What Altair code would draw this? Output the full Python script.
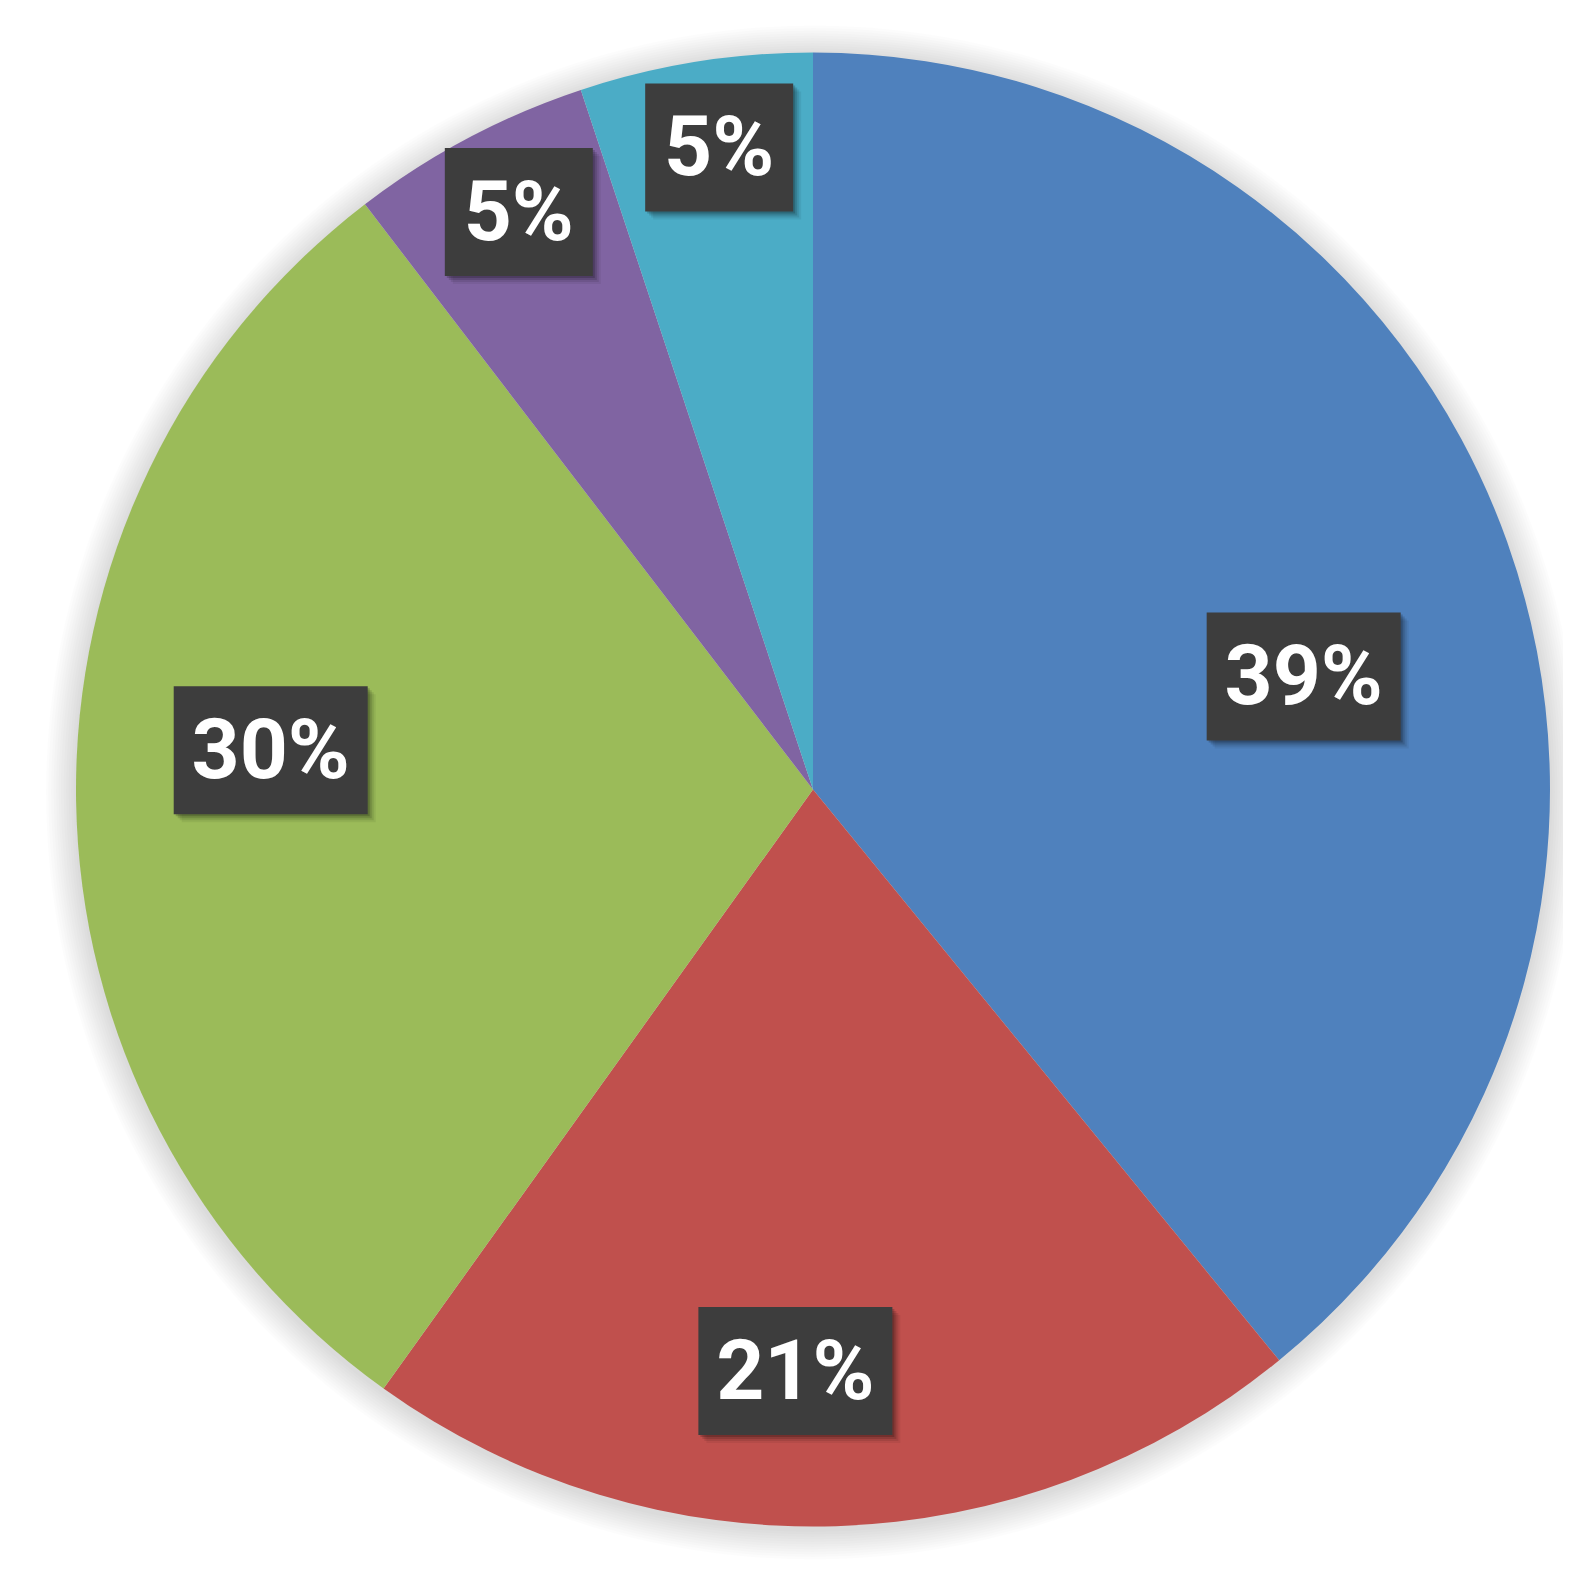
import altair as alt
import pandas as pd

# ---- data ----
categories = ["Category 1", "Category 2", "Category 3", "Category 4", "Category 5"]
values = [39.1, 20.8, 29.7, 5.3, 5.1]
labels = ["39%", "21%", "30%", "5%", "5%"]
colors = ["#4F81BD", "#C0504D", "#9BBB59", "#8064A2", "#4BACC6"]

df = pd.DataFrame({
    "cat": categories,
    "value": values,
    "label": labels,
    "idx": list(range(len(categories))),
})

# ---- layout ----
W, H = 1555, 1556            # view size
CX, CY, R = 805, 781.5, 737  # pie centre / radius in view pixels
BOX_H = 128
CHAR_W, BOX_PAD = 46, 56

xdom = [-CX / R, (W - CX) / R]
ydom = [-(H - CY) / R, CY / R]
xs = alt.Scale(domain=xdom, range=[0, W], nice=False, zero=False)
ys = alt.Scale(domain=ydom, range=[H, 0], nice=False, zero=False)

base = alt.Chart(df)

# soft shadow around the pie
shadow_layers = []
one = pd.DataFrame({"a": [0]})
for k in range(12, 0, -1):
    shadow_layers.append(
        alt.Chart(one).mark_arc(
            theta=0, theta2=6.2832, outerRadius=R + 2.5 * k,
            fill="#000000", fillOpacity=0.011, strokeWidth=0,
        ).encode(x=alt.value(CX), y=alt.value(CY + 3))
    )

pie = base.mark_arc(outerRadius=R, strokeWidth=0).encode(
    theta=alt.Theta("value:Q", stack=True),
    color=alt.Color("cat:N", scale=alt.Scale(domain=categories, range=colors), legend=None),
    order=alt.Order("idx:Q"),
    x=alt.value(CX),
    y=alt.value(CY),
)

lab = (
    base.transform_joinaggregate(total="sum(value)")
    .transform_window(cum="sum(value)", sort=[alt.SortField("idx")], frame=[None, 0])
    .transform_calculate(
        pct="datum.value / datum.total * 100",
        mid="(datum.cum - datum.value / 2) / datum.total * 2 * PI",
    )
    .transform_calculate(
        rf="0.91 - 0.0058 * datum.pct",
        ang="datum.mid + 0.17 * datum.pct * PI / 180",
    )
    .transform_calculate(
        lx="datum.rf * sin(datum.ang)",
        ly="datum.rf * cos(datum.ang)",
        hw=f"({CHAR_W} * length(datum.label) + {BOX_PAD}) / 2 / {R}",
        hh=f"{BOX_H / 2} / {R}",
    )
    .transform_calculate(
        x1="datum.lx - datum.hw", x2="datum.lx + datum.hw",
        y1="datum.ly - datum.hh", y2="datum.ly + datum.hh",
    )
)

box_shadows = []
for off, op in [(8, 0.06), (6, 0.09), (4, 0.13), (2, 0.18)]:
    box_shadows.append(
        lab.transform_calculate(
            sx1=f"datum.x1 + {off} / {R}", sx2=f"datum.x2 + {off} / {R}",
            sy1=f"datum.y1 - {off} / {R}", sy2=f"datum.y2 - {off} / {R}",
        ).mark_rect(color="#000000", opacity=op).encode(
            x=alt.X("sx1:Q", scale=xs, axis=None), x2="sx2:Q",
            y=alt.Y("sy1:Q", scale=ys, axis=None), y2="sy2:Q",
        )
    )
box = lab.mark_rect(color="#3d3d3d").encode(
    x=alt.X("x1:Q", scale=xs, axis=None), x2="x2:Q",
    y=alt.Y("y1:Q", scale=ys, axis=None), y2="y2:Q",
)
text = lab.mark_text(
    font="Roboto", fontWeight="bold", fontSize=84, color="#ffffff",
    align="center", baseline="middle", dy=3,
).encode(
    x=alt.X("lx:Q", scale=xs, axis=None),
    y=alt.Y("ly:Q", scale=ys, axis=None),
    text="label:N",
)

chart = alt.layer(*shadow_layers, pie, *box_shadows, box, text).properties(
    width=W, height=H, padding=0, autosize=alt.AutoSizeParams(type="none"),
    view=alt.ViewBackground(strokeWidth=0, stroke="transparent"),
).configure_view(strokeWidth=0, stroke="transparent").configure(
    background="#ffffff",
    style={"cell": {"stroke": "transparent", "strokeWidth": 0}},
)

chart.save("out.html", embed_options={"renderer": "svg", "actions": False})
